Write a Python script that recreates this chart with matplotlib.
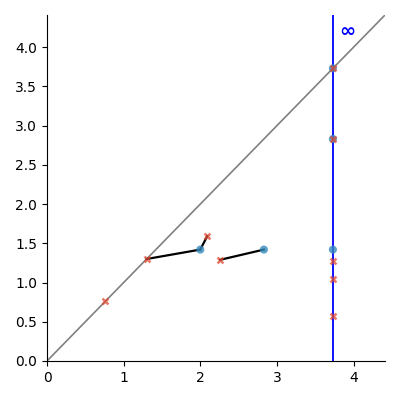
import matplotlib
matplotlib.use("Agg")
import matplotlib.pyplot as plt
import numpy as np

# diagram 1 (blue circles): birth, death
dgm1_birth = [2.00, 2.83, 3.73, 3.73, 3.73]
dgm1_death = [1.42, 1.42, 1.42, 2.83, 3.73]
# diagram 2 (red crosses)
dgm2_birth = [0.76, 1.30, 2.09, 2.26, 3.73, 3.73, 3.73, 3.73, 3.73]
dgm2_death = [0.76, 1.30, 1.59, 1.29, 3.73, 2.83, 1.28, 1.04, 0.57]
# matching segments
match_x0 = [1.30, 2.00, 2.26]
match_y0 = [1.30, 1.42, 1.29]
match_x1 = [2.00, 2.09, 2.83]
match_y1 = [1.42, 1.59, 1.42]

inf_x = 3.73
lim = 4.41

fig = plt.figure(figsize=(4, 4), dpi=100)
ax = fig.add_axes([0.1175, 0.0975, 0.845, 0.865])

ax.plot([0, lim], [0, lim], color="grey", lw=1.2, zorder=1)
ax.axvline(inf_x, color="b", lw=1.3, zorder=1)
for a, b, c, d in zip(match_x0, match_y0, match_x1, match_y1):
    ax.plot([a, c], [b, d], color="k", lw=1.6, zorder=2)
ax.scatter(dgm1_birth, dgm1_death, s=34, color="#348ABD", alpha=0.8, marker="o", zorder=3, edgecolors="none")
ax.scatter(dgm2_birth, dgm2_death, s=18, color="#E24A33", alpha=0.75, marker="x", zorder=4, linewidths=1.8)
ax.text(3.92, 4.2, "∞", color="b", fontsize=14, fontweight="bold", ha="center", va="center")

ax.set_xlim(0, lim)
ax.set_ylim(0, lim)
ax.spines["top"].set_visible(False)
ax.spines["right"].set_visible(False)

fig.savefig("out.png", dpi=100)
